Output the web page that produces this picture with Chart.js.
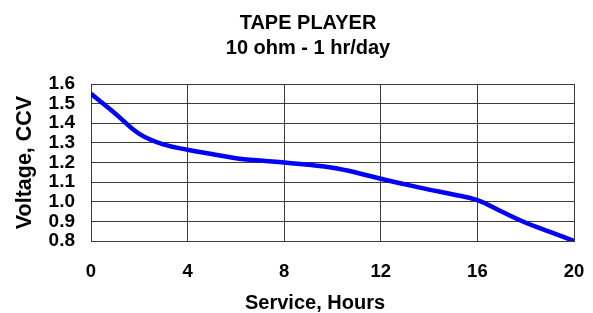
<!DOCTYPE html>
<html>
<head>
<meta charset="utf-8">
<script src="https://cdn.jsdelivr.net/npm/chart.js@4.4.1/dist/chart.umd.min.js"></script>
<style>
  html, body { margin: 0; padding: 0; background: #ffffff; }
  #wrap { width: 593px; height: 313px; position: relative; }
</style>
</head>
<body>
<div id="wrap"><canvas id="c"></canvas></div>
<script>
const chartTitle = ['TAPE PLAYER', '10 ohm - 1 hr/day'];
const xAxisTitle = 'Service, Hours';
const yAxisTitle = 'Voltage, CCV';
const hours = [0, 1, 2, 3, 4, 5, 6, 7, 8, 9, 10, 11, 12, 13, 14, 15, 16, 17, 18, 19, 20];
const voltage = [1.55, 1.45, 1.346, 1.292, 1.265, 1.243, 1.222, 1.21, 1.2, 1.188, 1.173, 1.148, 1.117, 1.089, 1.062, 1.037, 1.008, 0.95, 0.893, 0.847, 0.80];
const xTicks = [0, 4, 8, 12, 16, 20];
const yTicks = ['0.8', '0.9', '1.0', '1.1', '1.2', '1.3', '1.4', '1.5', '1.6'];

const FONT = "'Liberation Sans', Arial, sans-serif";
const GRID = '#3a3a3a';

const shiftTitles = {
  id: 'shiftTitles',
  afterLayout(chart) {
    chart.boxes.forEach(b => {
      if (!b.options || b.options.text === undefined || b.options.position === undefined) return;
      let target = null;
      if (b === chart.titleBlock) target = 308;
      else if (b.options.position === 'bottom') target = 315;
      if (target === null) return;
      const d = target - (b.left + b.right) / 2;
      b.left += d; b.right += d;
    });
  }
};

new Chart(document.getElementById('c'), {
  type: 'line',
  data: {
    datasets: [{
      data: hours.map((h, i) => ({ x: h, y: voltage[i] })),
      borderColor: '#0000ff',
      borderWidth: 4.5,
      pointRadius: 0,
      fill: false,
      tension: 0.4
    }]
  },
  plugins: [shiftTitles],
  options: {
    responsive: true,
    maintainAspectRatio: false,
    animation: false,
    layout: { padding: { left: 8, right: 19, top: 0, bottom: 0 } },
    plugins: {
      legend: { display: false },
      tooltip: { enabled: false },
      title: {
        display: true,
        text: chartTitle,
        color: '#000',
        font: { family: FONT, size: 20, weight: 'bold', lineHeight: 1.275 },
        padding: { top: 10.5, bottom: 22.5 }
      },
      subtitle: {
        display: true,
        position: 'bottom',
        text: xAxisTitle,
        color: '#000',
        font: { family: FONT, size: 20, weight: 'bold', lineHeight: 1.0 },
        padding: { top: 10, bottom: 0 }
      }
    },
    scales: {
      x: {
        type: 'linear',
        min: 0,
        max: 20,
        afterBuildTicks: axis => { axis.ticks = xTicks.map(v => ({ value: v })); },
        afterFit: scale => { scale.height = 42; },
        ticks: {
          color: '#000',
          font: { family: FONT, size: 18.5, weight: 'bold', lineHeight: 3.35 },
          padding: 0,
          maxRotation: 0,
          autoSkip: false
        },
        grid: { color: GRID, lineWidth: 1, drawTicks: false },
        border: { color: GRID, width: 1 }
      },
      y: {
        min: 0.8,
        max: 1.6,
        afterBuildTicks: axis => { axis.ticks = yTicks.map(v => ({ value: parseFloat(v) })); },
        afterFit: scale => { scale.width = 83; },
        ticks: {
          color: '#000',
          font: { family: FONT, size: 19, weight: 'bold' },
          padding: 16,
          autoSkip: false,
          callback: (v) => { const s = yTicks.find(t => Math.abs(parseFloat(t) - v) < 1e-6); return s !== undefined ? s : ''; }
        },
        title: {
          display: true,
          text: yAxisTitle,
          color: '#000',
          font: { family: FONT, size: 21.5, weight: 'bold', lineHeight: 1.2 },
          padding: { top: 4, bottom: 4 }
        },
        grid: { color: GRID, lineWidth: 1, drawTicks: false },
        border: { color: GRID, width: 1 }
      }
    }
  }
});
</script>
</body>
</html>
